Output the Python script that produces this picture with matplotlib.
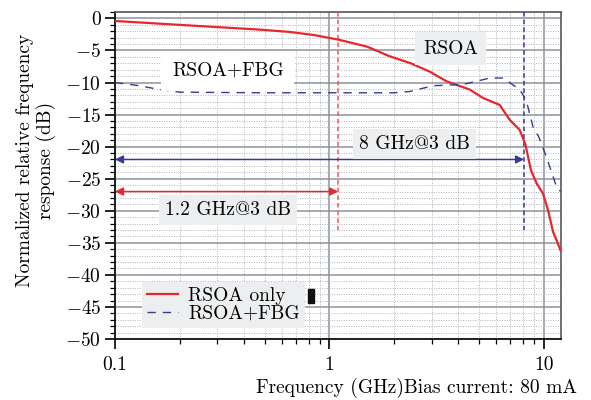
import matplotlib
matplotlib.use('Agg')
import matplotlib.pyplot as plt
from matplotlib.ticker import MultipleLocator, FixedLocator, NullFormatter

# Data
freq_rsoa = [0.1, 0.25, 0.45, 0.65, 0.85, 1.1, 1.5, 1.91, 2.4, 2.94, 3.52, 4.52,
             5.21, 6.24, 6.94, 7.73, 8.2, 8.73, 9.3, 9.93, 10.5, 11.07, 11.3, 12.0]
resp_rsoa = [-0.4, -1.2, -1.7, -2.1, -2.6, -3.3, -4.4, -5.9, -7.0, -8.3, -9.8, -11.1,
             -12.4, -13.5, -15.8, -17.4, -19.5, -23.7, -25.8, -27.3, -30.0, -33.3, -34.0, -36.2]

freq_fbg = [0.1, 0.13, 0.162, 0.2, 0.5, 1.0, 2.0, 2.37, 3.05, 4.2, 5.0, 5.6,
            6.46, 7.73, 8.28, 8.92, 9.5, 10.3, 11.5, 12.0]
resp_fbg = [-10.0, -10.5, -11.1, -11.5, -11.6, -11.6, -11.6, -11.4, -10.5, -10.3, -9.7, -9.3,
            -9.3, -11.1, -12.7, -16.9, -18.5, -21.6, -26.3, -27.0]

bw_rsoa = 1.1    # 3 dB bandwidth marker, RSOA only
bw_fbg = 8.1     # 3 dB bandwidth marker, RSOA+FBG
arrow_level_rsoa = -27
arrow_level_fbg = -22

red = '#e8262b'
blue = '#363b93'
box_gray = '#eceef0'
grid_gray = '#8c939a'

plt.rcParams['font.family'] = ['cmr10', 'DejaVu Serif']
plt.rcParams['axes.formatter.use_mathtext'] = True
plt.rcParams['mathtext.fontset'] = 'cm'

fig = plt.figure(figsize=(5.91, 4.0), dpi=100)
ax = fig.add_axes([115 / 591, 61 / 400, (561 - 115) / 591, (388 - 61) / 400])

ax.plot(freq_rsoa, resp_rsoa, color=red, lw=1.6, label='RSOA only', zorder=5)
ax.plot(freq_fbg, resp_fbg, color=blue, lw=1.0, ls=(0, (6, 5)), label='RSOA+FBG', zorder=5)

ax.plot([bw_rsoa, bw_rsoa], [1, -33], color='#f0565a', lw=1.1, ls=(0, (3, 2)), zorder=4)
ax.plot([bw_fbg, bw_fbg], [1, -33], color=blue, lw=1.1, ls=(0, (3, 2)), zorder=4)

ax.annotate('', xy=(bw_fbg, arrow_level_fbg), xytext=(0.1, arrow_level_fbg),
            arrowprops=dict(arrowstyle='<|-|>', color=blue, lw=1.1,
                            mutation_scale=12, shrinkA=0, shrinkB=0), zorder=4)
ax.annotate('', xy=(bw_rsoa, arrow_level_rsoa), xytext=(0.1, arrow_level_rsoa),
            arrowprops=dict(arrowstyle='<|-|>', color=red, lw=1.1,
                            mutation_scale=12, shrinkA=0, shrinkB=0), zorder=4)

ax.set_xscale('log')
ax.set_xlim(0.1, 12.05)
ax.set_ylim(-50, 1.0)

ax.set_xticks([0.1, 1, 10])
ax.set_xticklabels(['0.1', '1', '10'])
ax.xaxis.set_minor_locator(FixedLocator([m * d for d in (0.1, 1, 10) for m in range(2, 10)]))
ax.xaxis.set_minor_formatter(NullFormatter())
ax.set_yticks(range(-50, 1, 5))
ax.set_yticklabels(['$-$%d' % (-v) if v < 0 else '0' for v in range(-50, 1, 5)])
ax.yaxis.set_minor_locator(MultipleLocator(1))

ax.grid(which='major', color=grid_gray, lw=1.1, ls='-')
ax.grid(which='minor', color='#b0b5bb', lw=0.7, ls=(0, (1, 1.5)))
ax.set_axisbelow(True)

ax.tick_params(which='major', direction='out', length=7, width=1.2, labelsize=14, pad=3)
ax.tick_params(which='minor', direction='out', length=3.5, width=0.9)
ax.tick_params(axis='x', which='major', pad=5)
for side in ('left', 'bottom'):
    ax.spines[side].set_linewidth(1.3)
    ax.spines[side].set_color('#111111')
for side in ('top', 'right'):
    ax.spines[side].set_linewidth(1.2)
    ax.spines[side].set_color('#555a60')

txt_kw = dict(fontsize=14, ha='center', va='center', zorder=6)
ax.text(0.336, -8.2, 'RSOA+FBG', bbox=dict(boxstyle='square,pad=0.55', fc='white', ec='none'), **txt_kw)
ax.text(3.68, -4.7, 'RSOA', bbox=dict(boxstyle='square,pad=0.4', fc=box_gray, ec='none'), **txt_kw)
ax.text(2.5, -19.6, '8 GHz@3 dB', bbox=dict(boxstyle='square,pad=0.3', fc=box_gray, ec='none'), **txt_kw)
ax.text(0.336, -29.9, '1.2 GHz@3 dB', bbox=dict(boxstyle='square,pad=0.3', fc=box_gray, ec='none'), **txt_kw)

leg = ax.legend(loc='lower left', bbox_to_anchor=(0.06, 0.035), fontsize=14, frameon=True,
                fancybox=False, handlelength=1.6, handletextpad=0.55, labelspacing=0.0,
                borderpad=0.25, borderaxespad=0)
leg.get_frame().set_facecolor(box_gray)
leg.get_frame().set_edgecolor('none')
leg.get_frame().set_alpha(1)
leg.set_zorder(7)
ax.add_patch(plt.Rectangle((0.433, 0.11), 0.014, 0.043, transform=ax.transAxes,
                           color='#111111', zorder=8))

fig.text(36 / 591, 1 - 160 / 400, 'Normalized relative frequency\nresponse (dB)', rotation=90,
         ha='center', va='center', fontsize=14, linespacing=1.1)
fig.text(577 / 591, 12 / 400, 'Frequency (GHz)Bias current: 80 mA',
         ha='right', va='center', fontsize=14)

fig.savefig('out.png', dpi=100)
